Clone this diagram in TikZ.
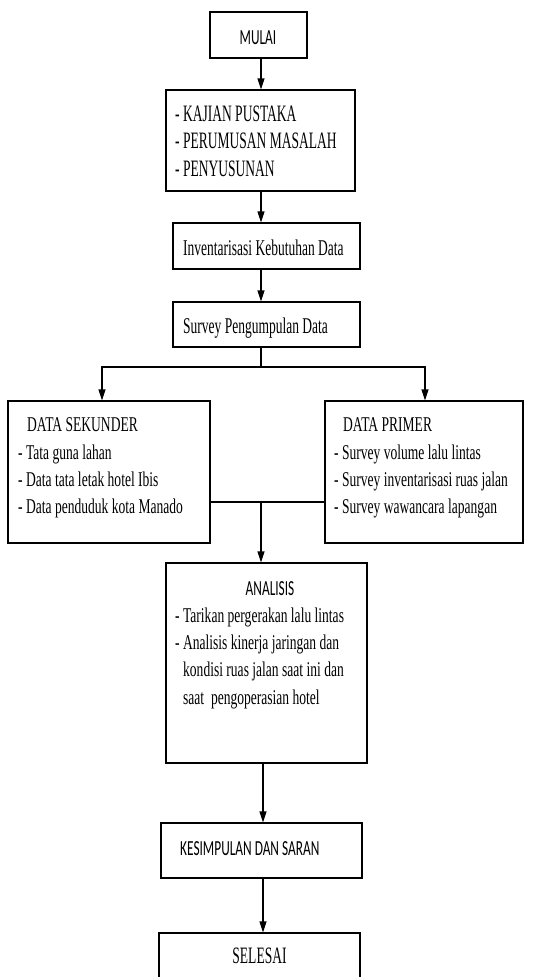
\documentclass[tikz,border=0pt]{standalone}
\usepackage{fontspec}
\setmainfont[FakeStretch=0.645]{Liberation Serif}
\newfontfamily\serifbesar[FakeStretch=0.575]{Liberation Serif}
\newfontfamily\serifsedang[FakeStretch=0.6]{Liberation Serif}
\newfontfamily\sempit[FakeStretch=0.62]{Carlito}
\usetikzlibrary{arrows.meta}

\begin{document}
\begin{tikzpicture}[x=1pt, y={(0pt,-1pt)},
	kotak/.style={draw, line width=1.1pt, inner sep=0pt},
	teks/.style={anchor=base west, inner sep=0pt, font=\fontsize{21}{28}\selectfont},
	teksbesar/.style={teks, font=\serifbesar\fontsize{23.5}{28}\selectfont},
	tekssedang/.style={teks, font=\serifsedang\fontsize{22.5}{28}\selectfont},
	judul/.style={anchor=base, inner sep=0pt, font=\sempit\fontsize{21.5}{28}\selectfont},
	panah/.style={line width=1.1pt, -{Triangle[length=11pt, width=7pt]}},
	garis/.style={line width=1.1pt}]
\useasboundingbox (0, 0) rectangle (554, 977);

\node[kotak, minimum width=97pt, minimum height=46pt] (mulai) at (258.5, 35) {};
\node[kotak, minimum width=189pt, minimum height=101pt] (kajian) at (260.5, 140.5) {};
\node[kotak, minimum width=187pt, minimum height=46pt] (inv) at (266.5, 246) {};
\node[kotak, minimum width=187pt, minimum height=45pt] (survey) at (266.5, 324.5) {};
\node[kotak, minimum width=202pt, minimum height=142pt] (sekunder) at (109, 472) {};
\node[kotak, minimum width=198pt, minimum height=142pt] (primer) at (424, 472) {};
\node[kotak, minimum width=201pt, minimum height=200pt] (analisis) at (266.5, 663) {};
\node[kotak, minimum width=201pt, minimum height=55pt] (kesimpulan) at (261.5, 850.5) {};
\node[kotak, minimum width=201pt, minimum height=64pt] (selesai) at (259.5, 965) {};

\node[judul] (tmulai) at (258, 44) {MULAI};
\foreach \t [count=\i] in {KAJIAN PUSTAKA, PERUMUSAN MASALAH, PENYUSUNAN}
	\node[teksbesar] (tkajian\i) at (175, 121 + 27.5*\i - 27.5) {- \t};
\node[tekssedang] (tinv) at (183, 255) {Inventarisasi Kebutuhan Data};
\node[tekssedang] (tsurvey) at (183, 333) {Survey Pengumpulan Data};

\node[teks] (tsekunder) at (27, 431) {DATA SEKUNDER};
\foreach \t [count=\i] in {Tata guna lahan, Data tata letak hotel Ibis, Data penduduk kota Manado}
	\node[teks] (tsekunder\i) at (18, 459 + 27*\i - 27) {- \t};
\node[teks] (tprimer) at (343, 431) {DATA PRIMER};
\foreach \t [count=\i] in {Survey volume lalu lintas, Survey inventarisasi ruas jalan, Survey wawancara lapangan}
	\node[teks] (tprimer\i) at (334, 459 + 27*\i - 27) {- \t};

\node[judul] (tanalisis) at (270, 595) {ANALISIS};
\node[teks] (tanalisis1) at (175, 622) {- Tarikan pergerakan lalu lintas};
\node[teks] (tanalisis2) at (175, 649) {- Analisis kinerja jaringan dan};
\node[teks] (tanalisis3) at (183, 676.5) {kondisi ruas jalan saat ini dan};
\node[teks] (tanalisis4) at (183, 704) {saat\ \ pengoperasian hotel};

\node[judul, anchor=base west] (tkesimpulan) at (180, 855) {KESIMPULAN DAN SARAN};
\node[teksbesar, anchor=base] (tselesai) at (259.5, 963) {SELESAI};

\coordinate (spine) at (261, 0);
\draw[panah] (spine |- mulai.south) -- (spine |- kajian.north);
\draw[panah] (spine |- kajian.south) -- (spine |- inv.north);
\draw[panah] (spine |- inv.south) -- (spine |- survey.north);

\coordinate (cabang) at (261, 367);
\coordinate (kiri) at (102, 367);
\coordinate (kanan) at (425, 367);
\draw[garis] (spine |- survey.south) -- (cabang);
\draw[panah] (cabang) -- (kiri) -- (kiri |- sekunder.north);
\draw[panah] (cabang) -- (kanan) -- (kanan |- primer.north);

\coordinate (gabung) at (261, 502);
\draw[garis] (sekunder.east |- gabung) -- (primer.west |- gabung);
\draw[panah] (gabung) -- (gabung |- analisis.north);

\coordinate (bawah) at (263, 0);
\draw[panah] (bawah |- analisis.south) -- (bawah |- kesimpulan.north);
\draw[panah] (bawah |- kesimpulan.south) -- (bawah |- selesai.north);
\end{tikzpicture}
\end{document}
